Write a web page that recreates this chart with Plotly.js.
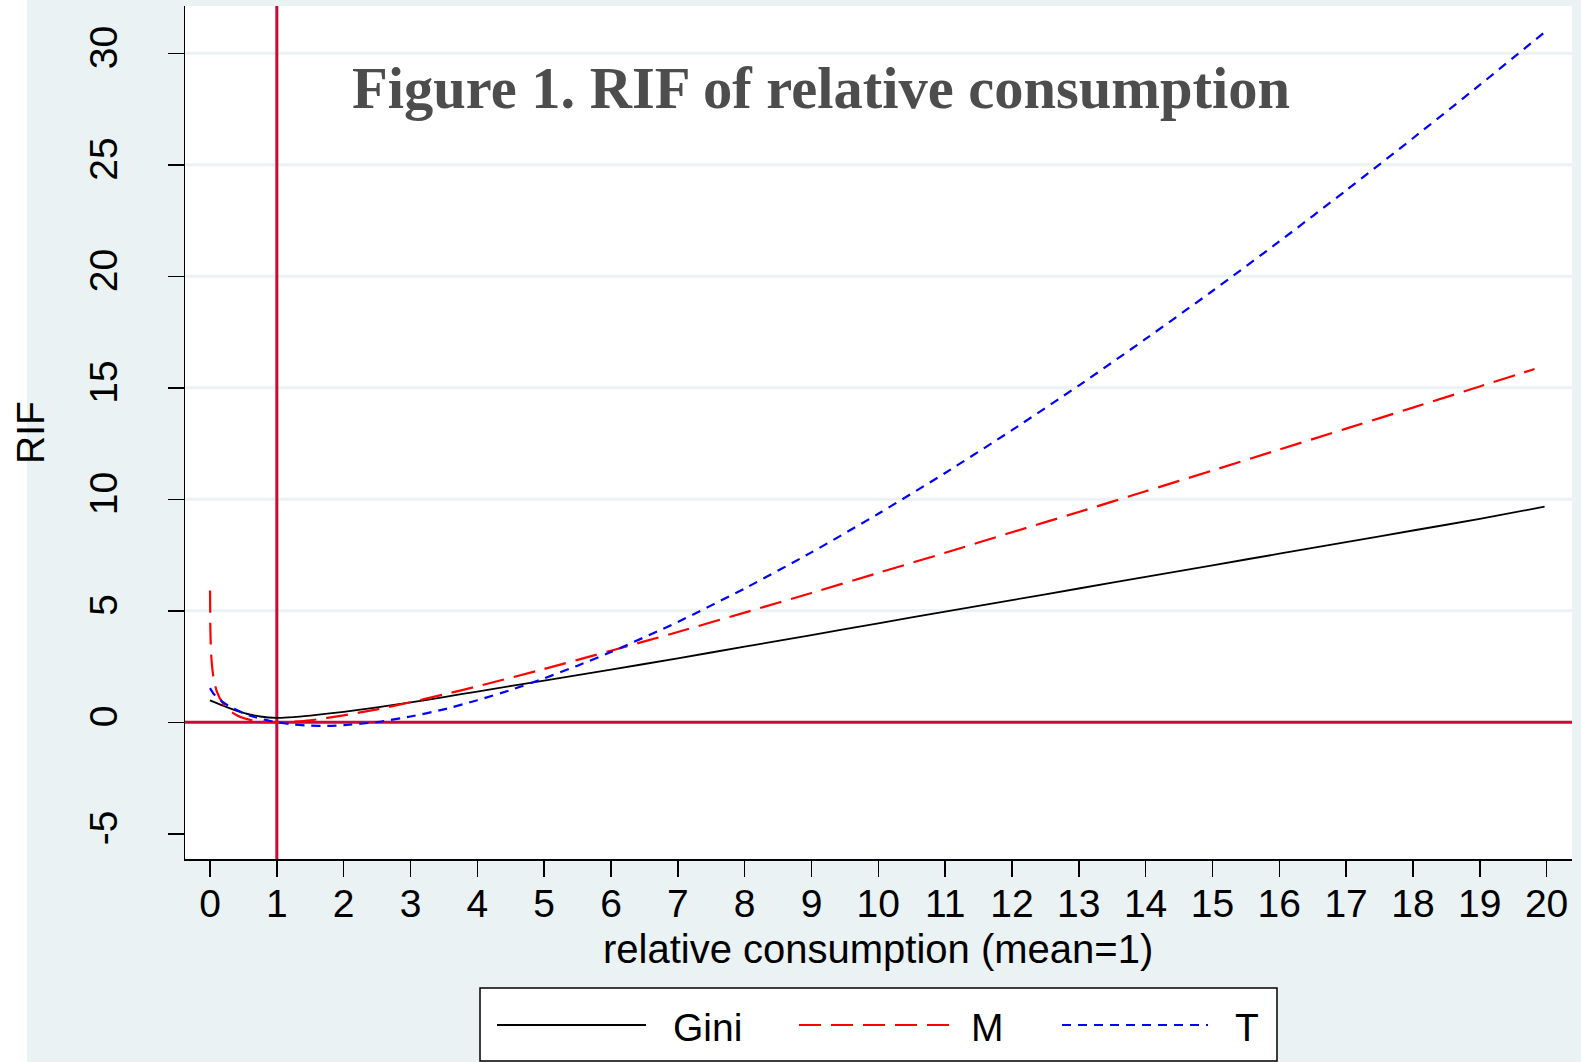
<!DOCTYPE html>
<html>
<head>
<meta charset="utf-8">
<script src="https://cdn.plot.ly/plotly-3.0.1.min.js"></script>
<style>
  html, body { margin: 0; padding: 0; background: #ffffff; }
  #chart { width: 1581px; height: 1062px; }
</style>
</head>
<body>
<div id="chart"></div>
<script>
// ---- Data ----
var giniX = [0, 0.25, 0.5, 0.75, 1, 1.25, 1.5, 2, 2.5, 3, 3.5, 4, 5, 6, 7, 8, 9, 10, 11, 12, 13, 14, 15, 16, 17, 18, 19, 19.97];
var giniY = [0.98, 0.68, 0.42, 0.26, 0.20, 0.23, 0.30, 0.47, 0.67, 0.89, 1.13, 1.38, 1.87, 2.36, 2.87, 3.39, 3.91, 4.44, 4.96, 5.48, 6.00, 6.52, 7.04, 7.56, 8.08, 8.60, 9.12, 9.67];

var mX = [0.001, 0.005, 0.01, 0.02, 0.05, 0.1, 0.2, 0.3, 0.4, 0.5, 0.6, 0.7, 0.8, 1, 1.25, 1.5, 2, 2.5, 3, 3.5, 4, 5, 6, 7, 8, 9, 10, 11, 12, 13, 14, 15, 16, 17, 18, 19, 19.82];
var mY = [5.91, 4.30, 3.62, 2.93, 2.05, 1.40, 0.81, 0.50, 0.32, 0.19, 0.11, 0.06, 0.02, 0.00, 0.03, 0.09, 0.31, 0.58, 0.90, 1.25, 1.61, 2.39, 3.21, 4.05, 4.92, 5.80, 6.70, 7.60, 8.52, 9.43, 10.36, 11.29, 12.23, 13.17, 14.11, 15.06, 15.84];

var tX = [0, 0.05, 0.1, 0.2, 0.3, 0.4, 0.5, 0.6, 0.7, 0.8, 0.9, 1, 1.25, 1.5, 1.75, 2, 2.5, 3, 3.5, 4, 4.5, 5, 5.5, 6, 7, 8, 9, 10, 11, 12, 13, 14, 15, 16, 17, 18, 19, 19.98];
var tY = [1.53, 1.29, 1.14, 0.89, 0.70, 0.55, 0.41, 0.30, 0.21, 0.13, 0.06, 0.00, -0.10, -0.15, -0.16, -0.13, 0.01, 0.26, 0.58, 0.99, 1.45, 1.97, 2.54, 3.15, 4.50, 6.00, 7.62, 9.35, 11.18, 13.10, 15.10, 17.19, 19.34, 21.56, 23.85, 26.19, 28.58, 30.97];

var seriesNames = ["Gini", "M", "T"];
var xTickVals = [0, 1, 2, 3, 4, 5, 6, 7, 8, 9, 10, 11, 12, 13, 14, 15, 16, 17, 18, 19, 20];
var yTickVals = [-5, 0, 5, 10, 15, 20, 25, 30];
var yGridVals = [5, 10, 15, 20, 25, 30];
var refLineX = 1;
var refLineY = 0;

var titleText = "Figure 1. RIF of relative consumption";
var xTitle = "relative consumption (mean=1)";
var yTitle = "RIF";

// ---- Styles ----
var colors = ["#000000", "#FF0000", "#0000FF"];
var dashes = ["solid", "22px,10px", "9px,7px"];
var widths = [1.8, 2.2, 2.2];
var bgBlue = "#EAF2F3";
var refRed = "#C80A37";
var sansFont = "Liberation Sans, Arial, Helvetica, sans-serif";

var xs = [giniX, mX, tX];
var ys = [giniY, mY, tY];
var traces = seriesNames.map(function (n, i) {
  return {
    type: "scatter", mode: "lines", name: n,
    x: xs[i], y: ys[i],
    line: { color: colors[i], width: widths[i], dash: dashes[i], shape: "spline", smoothing: 0.6 },
    hoverinfo: "x+y+name", showlegend: false
  };
});

// plot area geometry (px) for converting legend positions into paper coords
var L = 185, R = 9, T = 6, B = 203, W = 1581, H = 1062;
var pw = W - L - R, ph = H - T - B;
function px(p) { return (p - L) / pw; }
function py(p) { return 1 - (p - T) / ph; }

var shapes = [];
// gridlines
yGridVals.forEach(function (v) {
  shapes.push({ type: "line", xref: "paper", yref: "y", x0: 0, x1: 1, y0: v, y1: v,
    line: { color: bgBlue, width: 3 }, layer: "below" });
});
// reference lines
shapes.push({ type: "line", xref: "x", yref: "paper", x0: refLineX, x1: refLineX, y0: 0, y1: 1,
  line: { color: refRed, width: 3 }, layer: "below" });
shapes.push({ type: "line", xref: "paper", yref: "y", x0: 0, x1: 1, y0: refLineY, y1: refLineY,
  line: { color: refRed, width: 3 }, layer: "below" });
// white strip at far left
shapes.push({ type: "rect", xref: "paper", yref: "paper", x0: px(-5), x1: px(27), y0: py(-5), y1: py(H + 5),
  fillcolor: "#FFFFFF", line: { width: 0 }, layer: "above" });

// custom legend box
shapes.push({ type: "rect", xref: "paper", yref: "paper", x0: px(480), x1: px(1277), y0: py(1061), y1: py(988),
  fillcolor: "#FFFFFF", line: { color: "#000000", width: 1.5 }, layer: "above" });

var legendLineX = [[497, 646], [799, 951], [1062, 1208]];
var legendTextX = [671, 969, 1233];
var legendY = 1025;
var annotations = [];
seriesNames.forEach(function (n, i) {
  shapes.push({ type: "line", xref: "paper", yref: "paper",
    x0: px(legendLineX[i][0]), x1: px(legendLineX[i][1]), y0: py(legendY), y1: py(legendY),
    line: { color: colors[i], width: widths[i], dash: dashes[i] }, layer: "above" });
  annotations.push({ xref: "paper", yref: "paper", x: px(legendTextX[i]), y: py(legendY + 2),
    xanchor: "left", yanchor: "middle", showarrow: false, text: n,
    font: { family: sansFont, size: 39, color: "#000000" } });
});

// chart title (inside the plot area)
annotations.push({
  xref: "paper", yref: "paper", x: px(821), y: py(88), xanchor: "center", yanchor: "middle",
  showarrow: false, text: "<b>" + titleText + "</b>",
  font: { family: "Liberation Serif, Times New Roman, serif", size: 58.5, color: "#4D4D4D" }
});
// x-axis title
annotations.push({
  xref: "paper", yref: "paper", x: px(878), y: py(949), xanchor: "center", yanchor: "middle",
  showarrow: false, text: xTitle,
  font: { family: sansFont, size: 40, color: "#000000" }
});

var axisCommon = {
  ticks: "outside", ticklen: 16, tickwidth: 1.5, tickcolor: "#000000",
  showline: true, linecolor: "#000000", linewidth: 1.5, mirror: false,
  showgrid: false, zeroline: false, tickmode: "array",
  tickfont: { family: sansFont, size: 39, color: "#000000" }
};

var layout = {
  width: W, height: H,
  margin: { l: L, r: R, t: T, b: B, pad: 0 },
  paper_bgcolor: bgBlue, plot_bgcolor: "#FFFFFF",
  showlegend: false,
  xaxis: Object.assign({}, axisCommon, {
    range: [-0.374, 20.38], tickvals: xTickVals, ticktext: xTickVals.map(String),
    ticklabelstandoff: -6
  }),
  yaxis: Object.assign({}, axisCommon, {
    range: [-6.13, 32.12], tickvals: yTickVals, ticktext: yTickVals.map(String), tickangle: -90,
    ticklabelstandoff: 35,
    title: { text: yTitle, font: { family: sansFont, size: 39, color: "#000000" }, standoff: 25 }
  }),
  shapes: shapes,
  annotations: annotations
};

Plotly.newPlot("chart", traces, layout, { displayModeBar: false, staticPlot: true });
</script>
</body>
</html>
